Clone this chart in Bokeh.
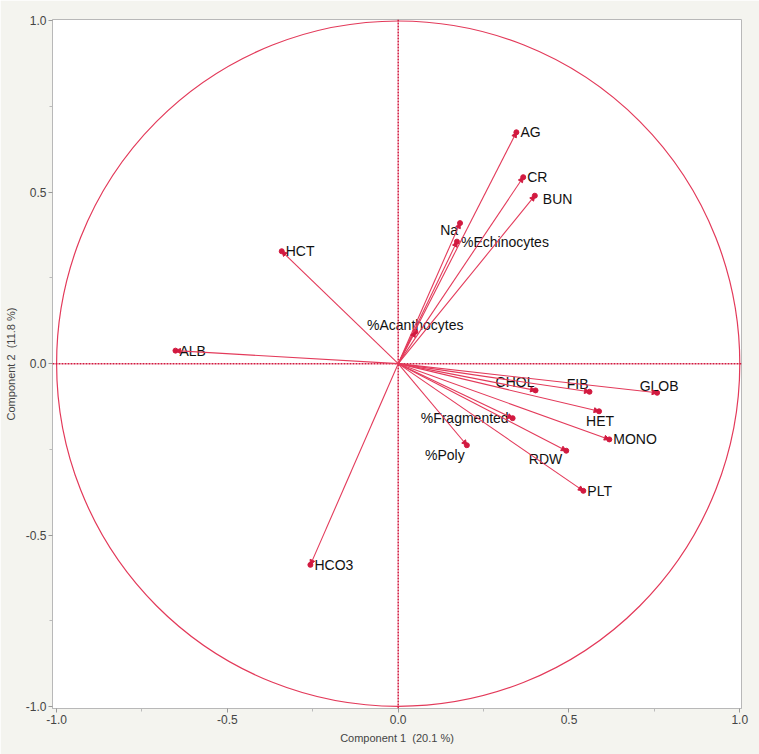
from bokeh.plotting import figure
from bokeh.models import (ColumnDataSource, Arrow, NormalHead, Span, Range1d,
                          FixedTicker, NumeralTickFormatter)
from bokeh.core.properties import value
from bokeh.embed import file_html
from bokeh.resources import INLINE

# ---- data (loadings) ----
variables = ["AG", "CR", "BUN", "Na", "%Echinocytes", "%Acanthocytes", "HCT", "ALB",
             "HCO3", "CHOL", "FIB", "GLOB", "HET", "MONO", "%Fragmented", "%Poly",
             "RDW", "PLT"]
comp1 = [0.346, 0.366, 0.400, 0.181, 0.172, 0.050, -0.341, -0.652,
         -0.257, 0.402, 0.560, 0.758, 0.588, 0.618, 0.335, 0.201,
         0.492, 0.542]
comp2 = [0.675, 0.544, 0.490, 0.410, 0.356, 0.093, 0.328, 0.038,
         -0.587, -0.078, -0.082, -0.085, -0.139, -0.221, -0.159, -0.238,
         -0.254, -0.371]
x_ticks = [-1.0, -0.5, 0.0, 0.5, 1.0]
y_ticks = [-1.0, -0.5, 0.0, 0.5, 1.0]
x_title = "Component 1\u00a0\u00a0(20.1 %)"
y_title = "Component 2\u00a0\u00a0(11.8 %)"

# ---- label placement (style only) ----
align = ["left", "left", "left", "right", "left", "center", "left", "left",
         "left", "right", "right", "center", "center", "left", "right", "center",
         "right", "left"]
dx = [4, 4, 8, -2, 4, 0, 4, 4, 4, -1, -1, 2, 1, 4, -4, -22, -4, 4]
dy = [0, 0, 3, 7, 0, -7, 0, 0, 0, -8, -8, -7, 10, 0, 0, 10, 8, 0]

RED = "#e33a5a"
DARK = "#d21a40"

n = len(variables)
src = ColumnDataSource(dict(name=variables, x=comp1, y=comp2,
                            x0=[0.0] * n, y0=[0.0] * n,
                            align=align, dx=dx, dy=dy))

p = figure(width=759, height=754, output_backend="svg", toolbar_location=None,
           x_range=Range1d(-1.012, 1.005), y_range=Range1d(-1.006, 1.004),
           min_border_left=52, min_border_top=19, min_border_right=18,
           min_border_bottom=46)
p.background_fill_color = "white"
p.border_fill_color = "#f4f4ef"
p.outline_line_color = "#b8b8b8"
p.grid.visible = False

# axes
for ax, ticks, title in ((p.xaxis[0], x_ticks, x_title), (p.yaxis[0], y_ticks, y_title)):
    ax.ticker = FixedTicker(ticks=ticks,
                            minor_ticks=[t + 0.25 for t in ticks[:-1]])
    ax.formatter = NumeralTickFormatter(format="0.0")
    ax.axis_label = title
    ax.axis_label_text_font = "Liberation Sans"
    ax.axis_label_text_font_size = "11px"
    ax.axis_label_text_font_style = "normal"
    ax.major_label_text_font = "Liberation Sans"
    ax.major_label_text_font_size = "12px"
    ax.major_label_standoff = 2
    ax.axis_line_color = "#b8b8b8"
    ax.major_tick_line_color = "#999999"
    ax.minor_tick_line_color = "#bbbbbb"
    ax.major_tick_out = 4
    ax.major_tick_in = 0
    ax.minor_tick_out = 3
    ax.minor_tick_in = 0
p.yaxis[0].axis_label_standoff = 6
p.xaxis[0].axis_label_standoff = 5

# unit circle
p.ellipse(x=0, y=0, width=2, height=2, fill_alpha=0, line_color=RED, line_width=1.2)

# dotted axes through origin
p.add_layout(Span(location=0, dimension="width", line_color=DARK,
                  line_dash="2 1", line_width=1.5))
p.add_layout(Span(location=0, dimension="height", line_color=DARK,
                  line_dash="2 1", line_width=1.5))

# loading vectors
p.add_layout(Arrow(source=src, x_start="x0", y_start="y0", x_end="x", y_end="y",
                   line_color=RED, line_width=1.1,
                   end=NormalHead(size=5, fill_color=DARK, line_color=DARK)))
p.scatter(x="x", y="y", source=src, size=5, fill_color=DARK, line_color=DARK)

p.text(x="x", y="y", text="name", source=src, text_align="align",
       text_baseline="middle", x_offset="dx", y_offset="dy",
       text_font=value("Liberation Sans"), text_font_size="14px",
       text_color="#111111")

open("out.html", "w").write(file_html(p, INLINE))
